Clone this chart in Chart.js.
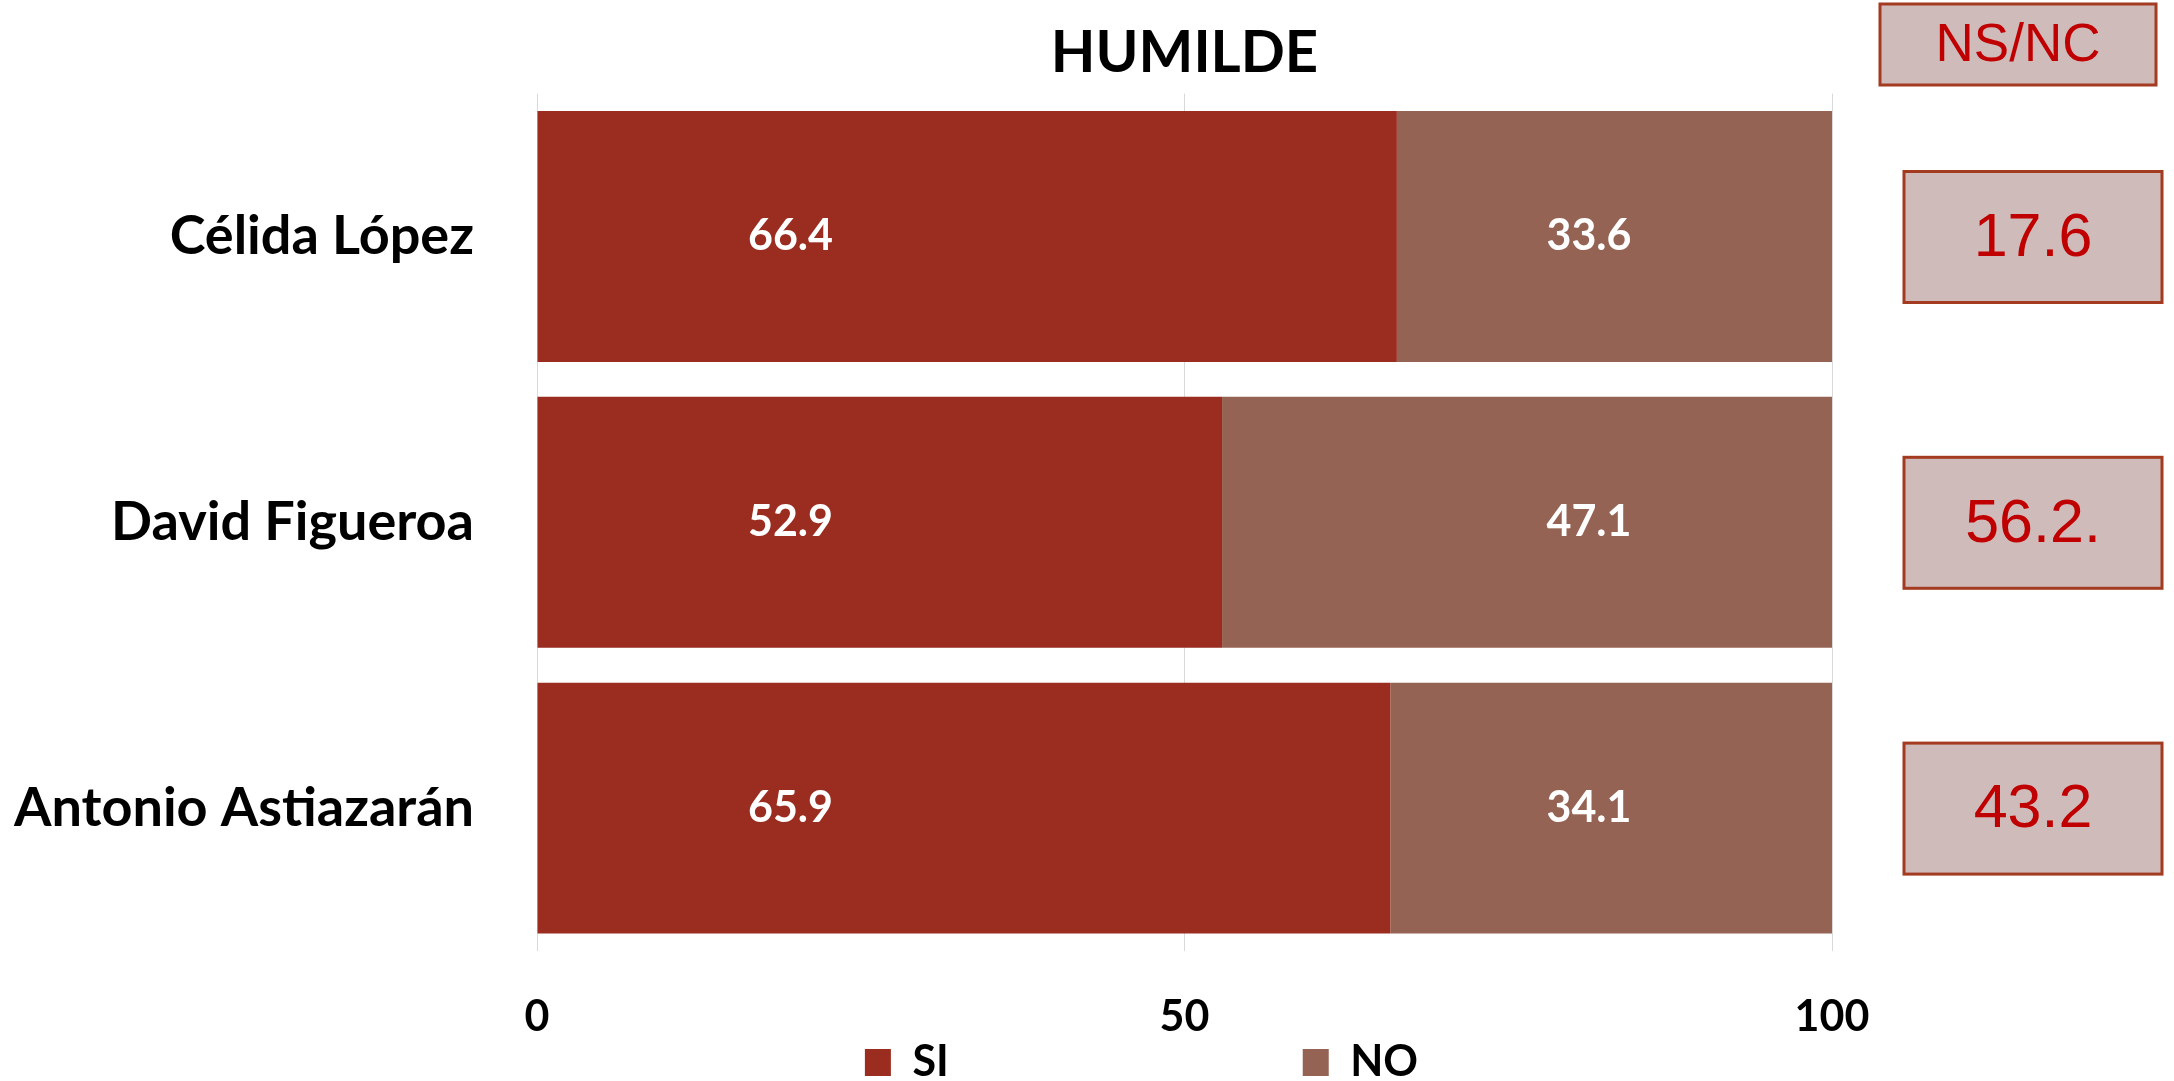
<!DOCTYPE html>
<html>
<head>
<meta charset="utf-8">
<title>HUMILDE</title>
<script src="https://cdn.jsdelivr.net/npm/chart.js@4.4.1/dist/chart.umd.min.js"></script>
<style>
  html, body { margin: 0; padding: 0; background: #fff; }
  #wrap { width: 2174px; height: 1081px; position: relative; }
</style>
</head>
<body>
<div id="wrap"><canvas id="chart" width="2174" height="1081"></canvas></div>
<script>
// datos
var candidatos = ['Célida López', 'David Figueroa', 'Antonio Astiazarán'];
var si = [66.4, 52.9, 65.9];
var no = [33.6, 47.1, 34.1];
var nsnc = ['17.6', '56.2.', '43.2'];
var ticksX = [0, 50, 100];

var rojo = '#9A2C20';
var cafe = '#956353';
var fuente = 'Lato';
var em = '\u2003';

// etiquetas blancas dentro de las barras
var etiquetas = {
  id: 'etiquetas',
  afterDatasetsDraw: function(chart){
    var ctx = chart.ctx;
    ctx.save();
    ctx.fillStyle = '#fff';
    ctx.font = 'bold 43px ' + fuente;
    ctx.textAlign = 'center';
    ctx.textBaseline = 'middle';
    chart.data.datasets.forEach(function(ds, d){
      chart.getDatasetMeta(d).data.forEach(function(bar, i){
        var x = d === 0 ? bar.base + 253 : bar.x - 243;
        ctx.fillText(ds.data[i].toFixed(1), x, bar.y);
      });
    });
    ctx.restore();
  }
};

// cajas NS/NC a la derecha
var cajas = {
  id: 'cajas',
  afterDraw: function(chart){
    var ctx = chart.ctx;
    var area = chart.chartArea;
    var y = chart.scales.y;
    function caja(x, top, w, h, txt, size){
      ctx.fillStyle = '#D0BBBB';
      ctx.fillRect(x, top, w, h);
      ctx.strokeStyle = '#A33B20';
      ctx.lineWidth = 3;
      ctx.strokeRect(x, top, w, h);
      ctx.fillStyle = '#C00000';
      ctx.font = size + 'px "Liberation Sans", Arial';
      ctx.textAlign = 'center';
      ctx.textBaseline = 'middle';
      ctx.fillText(txt, x + w / 2, top + h / 2 + 2);
    }
    ctx.save();
    caja(area.right + 48, 4, 276, 81, 'NS/NC', 53);
    nsnc.forEach(function(v, i){
      var cy = y.getPixelForValue(i);
      caja(area.right + 72, cy - 65, 258, 131, v, 61);
    });
    ctx.restore();
  }
};

var ctx = document.getElementById('chart');
var grafica = new Chart(ctx, {
  type: 'bar',
  data: {
    labels: candidatos,
    datasets: [
      { label: 'SI', data: si, backgroundColor: rojo, borderWidth: 0 },
      { label: 'NO', data: no, backgroundColor: cafe, borderWidth: 0 }
    ]
  },
  options: {
    responsive: false,
    animation: false,
    indexAxis: 'y',
    barPercentage: 0.878,
    categoryPercentage: 1,
    layout: { padding: { left: 0, right: 342, top: 0, bottom: -13 } },
    scales: {
      x: {
        stacked: true,
        min: 0,
        max: 100,
        afterBuildTicks: function(scale){
          scale.ticks = ticksX.map(function(v){ return { value: v }; });
        },
        afterFit: function(scale){ scale.height = 80; },
        grid: { color: '#D9D9D9', lineWidth: 1, drawTicks: false },
        border: { display: false },
        ticks: {
          color: '#000',
          font: { family: fuente, size: 43, weight: 'bold' },
          padding: 40
        }
      },
      y: {
        stacked: true,
        afterFit: function(scale){ scale.width = 537; },
        grid: { display: false },
        border: { display: false },
        ticks: {
          color: '#000',
          font: { family: fuente, size: 54, weight: 'bold' },
          padding: 55
        }
      }
    },
    plugins: {
      title: {
        display: true,
        text: 'HUMILDE',
        color: '#000',
        fullSize: false,
        font: { family: fuente, size: 58, weight: 'bold' },
        padding: { top: 18, bottom: 6 }
      },
      legend: {
        position: 'bottom',
        fullSize: false,
        labels: {
          color: '#000',
          boxWidth: 26,
          boxHeight: 27,
          padding: 10,
          font: { family: fuente, size: 43, weight: 'bold' },
          generateLabels: function(chart){
            return chart.data.datasets.map(function(ds, i){
              return {
                text: i === 0 ? ds.label + em.repeat(10) + '\u2002' : ds.label + em.repeat(2) + '\u2002',
                fillStyle: ds.backgroundColor,
                strokeStyle: ds.backgroundColor,
                lineWidth: 0,
                fontColor: '#000',
                datasetIndex: i
              };
            });
          }
        }
      },
      tooltip: { enabled: false }
    }
  },
  plugins: [etiquetas, cajas]
});
</script>
</body>
</html>
